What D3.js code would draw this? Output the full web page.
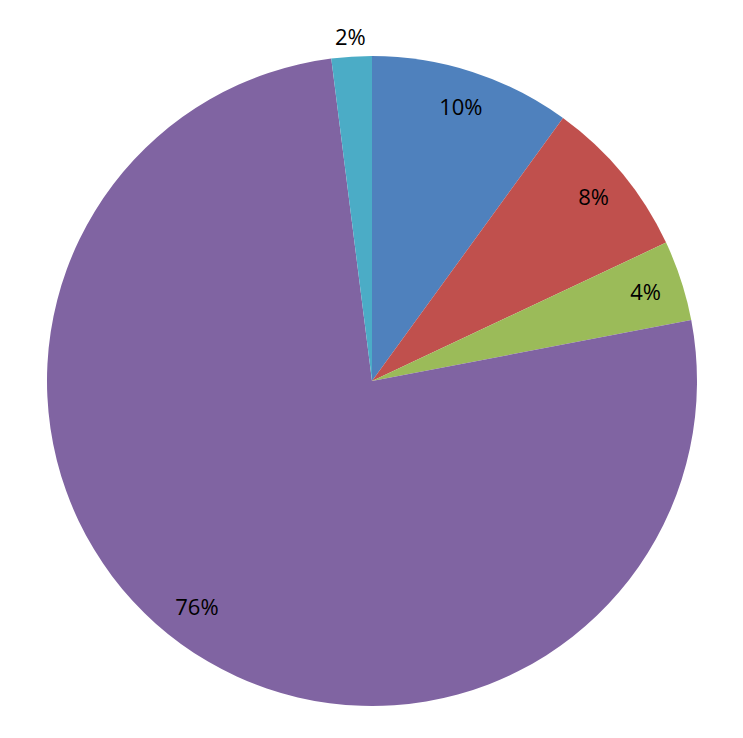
<!DOCTYPE html>
<html>
<head>
<meta charset="utf-8">
<script src="https://cdn.jsdelivr.net/npm/d3@7"></script>
<style>
  body { margin: 0; background: #fff; }
  svg { display: block; }
</style>
</head>
<body>
<svg id="chart"></svg>
<script>
let categories = ["A", "B", "C", "D", "E"]
let values = [10, 8, 4, 76, 2]
let labels = ["10%", "8%", "4%", "76%", "2%"]
let colors = ["#4f81bd", "#c0504d", "#9bbb59", "#8064a2", "#4bacc6"]

function getConfig(){
    let width = 743
    let height = 738
    let cx = 372
    let cy = 381
    let radius = 325
    let container = d3.select("#chart")
        .attr("width", width)
        .attr("height", height)
    return { width, height, cx, cy, radius, container }
}

function drawPie(){
    let { cx, cy, radius, container } = getConfig()

    let data = categories.map((c, i) => ({ name: c, value: values[i], label: labels[i] }))

    let pie = d3.pie()
        .value(d => d.value)
        .sort(null)

    let arcs = pie(data)

    let arc = d3.arc().innerRadius(0).outerRadius(radius)
    let labelArc = d3.arc().innerRadius(radius * 0.885).outerRadius(radius * 0.885)
    // small slice label sits outside the pie
    let outsideArc = d3.arc().innerRadius(radius * 1.06).outerRadius(radius * 1.06)

    let body = container.append("g")
        .attr("transform", `translate(${cx},${cy})`)

    body.selectAll("path")
        .data(arcs)
        .enter().append("path")
        .attr("d", arc)
        .attr("fill", (d, i) => colors[i])

    body.selectAll("text")
        .data(arcs)
        .enter().append("text")
        .attr("transform", d => {
            let a = (d.endAngle - d.startAngle) < 0.2 ? outsideArc : labelArc
            let [x, y] = a.centroid(d)
            // nudge the big slice label a bit, like the original
            if (d.data.value > 50) { x -= 6; y -= 6 }
            return `translate(${x},${y})`
        })
        .attr("text-anchor", "middle")
        .attr("dy", "0.35em")
        .style("font-family", "'Open Sans', sans-serif")
        .style("font-size", "22px")
        .attr("fill", "#000")
        .text(d => d.data.label)
}

drawPie()
</script>
</body>
</html>
